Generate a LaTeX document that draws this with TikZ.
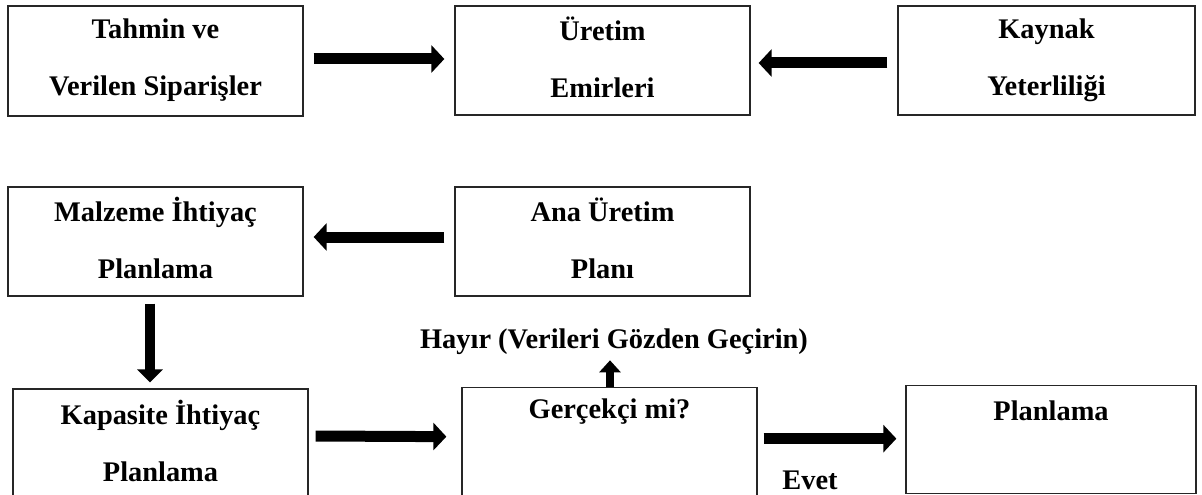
\documentclass[tikz,border=0pt]{standalone}
\usepackage{fontspec}
\setmainfont{Liberation Serif}
\usetikzlibrary{arrows.meta,calc}

\begin{document}
\begin{tikzpicture}[x=1pt,y=-1pt,
  txt/.style={font=\bfseries\fontsize{28.4}{57}\selectfont},
  box/.style={txt, draw=black!85, line width=1.3pt, align=center, inner sep=0pt, minimum width=295pt},
  twoline/.style={box,
    execute at begin node={\rule{0pt}{24pt}},
    execute at end node={\rule[-7pt]{0pt}{7pt}}},
  topbox/.style={box, inner ysep=0pt, anchor=north},
  blk/.style={line width=11pt, -{Triangle[length=13pt,width=27pt]}},
  blkv/.style={line width=10pt, -{Triangle[length=13pt,width=25pt]}},
  blks/.style={line width=8pt, -{Triangle[length=12pt,width=21pt]}},
  lbl/.style={txt, inner sep=0pt, anchor=base}
]
\useasboundingbox (0,0) rectangle (1202,495);
\clip (0,0) rectangle (1202,495);

% upper row
\node[twoline, minimum height=110pt] (orders) at (155.5,61) {Tahmin ve\\Verilen Siparişler};
\node[twoline, minimum height=109pt] (prodorders) at (602.5,60.5) {Üretim\\Emirleri};
\node[twoline, minimum width=297pt, minimum height=109pt] (resources) at (1046.5,60.5) {Kaynak\\Yeterliliği};

% middle row
\node[twoline, minimum height=109pt] (mrp) at (155.5,241.5) {Malzeme İhtiyaç\\Planlama};
\node[twoline, minimum height=109pt] (mps) at (602.5,241.5) {Ana Üretim\\Planı};

% lower row (boxes run past the lower edge)
\node[twoline, minimum height=110pt] (crp) at (160.5,444) {Kapasite İhtiyaç\\Planlama};
\node[topbox, text height=31pt, text depth=84pt] (real) at (609.5,387) {Gerçekçi mi?};
\node[topbox, minimum width=290pt, text height=35pt, text depth=73pt] (plan) at (1051,385) {Planlama};

% labels
\node[lbl] (no) at (614,348) {Hayır (Verileri Gözden Geçirin)};
\node[lbl] (yes) at (810,489) {Evet};

% connectors
\draw[blk] ($(orders.east)+(10,-2)$) -- ($(prodorders.west)+(-10,-1.5)$);
\draw[blk] ($(resources.west)+(-10,2.5)$) -- ($(prodorders.east)+(8,2.5)$);
\draw[blk] ($(mps.west)+(-10,-4.5)$) -- ($(mrp.east)+(10,-4.5)$);
\draw[blkv] ($(mrp.south)+(-5.5,7)$) -- ($(crp.north)+(-10.5,-6)$);
\draw[blk] ($(crp.east)+(7,-8)$) -- ($(real.west)+(-15,-8.5)$);
\draw[blks, shorten >=6pt] ($(real.north)+(0.5,0)$) -- ($(no.south)+(-4,0)$);
\draw[blk] ($(real.east)+(6,-6.5)$) -- ($(plan.west)+(-9,-1)$);
\end{tikzpicture}
\end{document}
